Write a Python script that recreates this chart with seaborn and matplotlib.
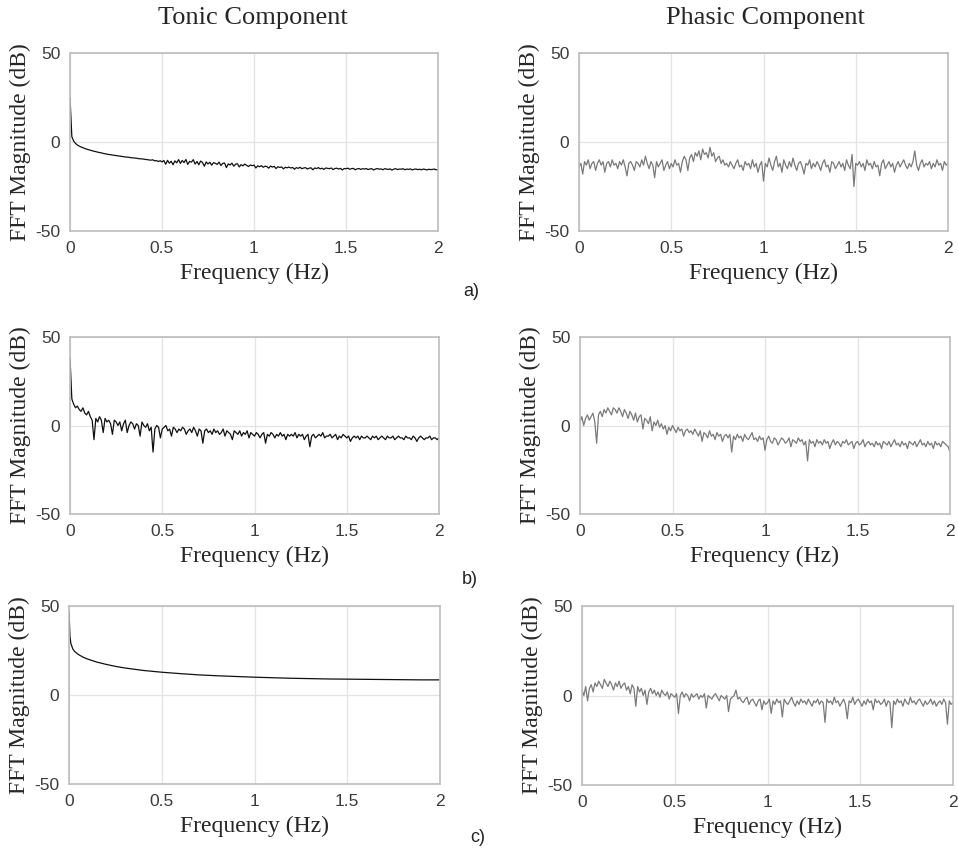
import numpy as np
import pandas as pd
import matplotlib
matplotlib.use("Agg")
import matplotlib.pyplot as plt
import seaborn as sns

# frequency axis of the FFT bins (0..2 Hz)
freq = np.linspace(0, 2, 201)

tonic_a = [25, 3.0, 0.5, -0.8, -1.7, -2.3, -2.8, -3.2, -3.6, -4.0, -4.3, -4.6, -4.9, -5.2, -5.4, -5.7, -5.9, -6.1, -6.4, -6.6,
           -6.8, -7.0, -7.1, -7.3, -7.5, -7.6, -7.8, -7.9, -8.1, -8.2, -8.4, -8.5, -8.6, -8.8, -8.9, -9.0, -9.1, -9.3, -9.4, -9.5,
           -9.6, -9.8, -9.9, -10.1, -10.2, -10.0, -10.6, -10.4, -11.0, -10.5, -11.2, -10.4, -12.5, -10.3, -11.9, -10.8, -12.8, -10.6, -11.7, -9.9,
           -12.0, -10.4, -11.6, -9.8, -12.6, -10.9, -11.3, -9.9, -12.4, -11.0, -12.8, -10.7, -11.5, -13.6, -11.2, -12.3, -11.4, -13.0, -11.6, -12.0,
           -12.6, -11.3, -13.2, -12.0, -11.8, -14.4, -12.3, -12.9, -11.9, -13.6, -12.5, -12.2, -14.0, -12.7, -13.4, -12.4, -13.1, -13.8, -12.9, -13.3,
           -13.0, -14.6, -13.4, -13.9, -13.3, -14.2, -13.6, -13.8, -14.7, -13.5, -14.1, -13.7, -14.9, -13.9, -14.3, -14.0, -15.1, -14.2, -14.5, -14.1,
           -14.6, -14.3, -15.3, -14.4, -14.8, -14.2, -15.0, -14.6, -14.4, -15.2, -14.7, -14.5, -15.6, -14.6, -14.9, -14.4, -15.1, -14.7, -15.4, -14.6,
           -14.8, -15.0, -14.6, -15.5, -14.9, -14.7, -15.2, -14.8, -15.7, -14.9, -15.0, -14.7, -15.3, -15.0, -14.8, -15.6, -15.1, -14.9, -15.4, -15.0,
           -15.2, -14.9, -15.5, -15.1, -15.0, -15.7, -15.2, -14.9, -15.3, -15.1, -15.6, -15.0, -15.2, -15.4, -15.1, -15.8, -15.2, -15.0, -15.5, -15.2,
           -15.3, -15.0, -15.6, -15.2, -15.4, -15.1, -15.7, -15.3, -15.2, -15.5, -15.3, -15.6, -15.2, -15.4, -15.7, -15.3, -15.5, -15.4, -15.2, -15.6, -15.5]

phasic_a = [-14, -12, -18, -11, -13, -10, -15, -12, -11, -16, -12, -10, -13, -11, -17, -12, -11, -14, -10, -13,
            -12, -15, -11, -13, -10, -14, -19, -12, -11, -13, -16, -11, -12, -14, -10, -13, -8, -12, -15, -11,
            -13, -20, -11, -14, -12, -10, -16, -13, -11, -15, -12, -14, -10, -13, -12, -17, -11, -8, -10, -16,
            -9, -7, -11, -6, -8, -5, -10, -4, -7, -6, -9, -3, -8, -6, -11, -9, -8, -12, -10, -13,
            -12, -14, -11, -13, -15, -12, -10, -14, -13, -16, -11, -13, -12, -15, -10, -14, -12, -17, -13, -11,
            -22, -12, -14, -9, -13, -16, -11, -8, -14, -12, -17, -10, -13, -15, -11, -14, -9, -13, -16, -12,
            -11, -14, -18, -12, -13, -10, -15, -12, -14, -11, -13, -16, -12, -10, -14, -13, -17, -11, -12, -15,
            -13, -11, -14, -12, -16, -10, -13, -15, -7, -25, -12, -13, -11, -14, -12, -16, -10, -13, -12, -15,
            -11, -14, -13, -19, -12, -10, -15, -13, -11, -14, -12, -17, -13, -11, -14, -12, -10, -13, -15, -12,
            -14, -11, -5, -13, -16, -12, -10, -14, -12, -13, -11, -15, -12, -14, -10, -13, -12, -16, -11, -13, -12]

tonic_b = [38, 15, 12, 10, 11, 9, 8, 10, 7, 6, 8, 5, 3, -8, 4, 2, 5, 3, -4, 4,
           2, 3, 1, -5, 3, 2, 0, 2, -3, 1, 3, -4, 0, 2, 1, -2, 1, 0, -6, 2,
           0, -1, 1, -3, -1, -15, -2, 0, -1, -7, -2, -1, 0, -3, -2, -6, -1, -2, -4, -2,
           -3, -1, -2, -5, -3, -2, -4, -1, -3, -6, -2, -3, -10, -3, -2, -4, -3, -5, -2, -4,
           -3, -5, -4, -2, -6, -3, -4, -5, -8, -3, -4, -5, -3, -6, -4, -5, -3, -7, -4, -5,
           -6, -4, -5, -7, -5, -4, -10, -5, -6, -4, -5, -7, -5, -6, -4, -6, -5, -8, -5, -6,
           -5, -6, -4, -7, -5, -6, -5, -8, -6, -5, -12, -6, -5, -7, -6, -5, -6, -4, -7, -6,
           -6, -5, -7, -6, -5, -8, -6, -7, -5, -6, -7, -6, -9, -7, -6, -7, -6, -8, -6, -7,
           -7, -6, -7, -8, -6, -7, -6, -8, -7, -6, -7, -8, -6, -7, -7, -6, -8, -7, -6, -7,
           -7, -8, -6, -7, -7, -8, -6, -7, -9, -7, -6, -7, -8, -7, -7, -6, -8, -7, -7, -8, -7]

phasic_b = [2, 5, 0, 4, 6, 3, 5, 7, 2, -10, 6, 8, 5, 9, 7, 10, 8, 6, 10, 9,
            7, 10, 8, 5, 9, 7, 4, 8, 6, 3, 7, 2, 5, 6, -2, 4, 3, 1, 5, -3,
            2, 0, 3, -1, 1, -2, 0, -5, -1, -3, 0, -2, -4, -1, -3, -2, -6, -3, -2, -4,
            -3, -5, -2, -4, -6, -3, -9, -4, -5, -7, -3, -6, -5, -8, -4, -6, -5, -9, -6, -5,
            -7, -5, -15, -6, -8, -5, -7, -6, -9, -5, -7, -8, -6, -4, -8, -7, -9, -6, -8, -7,
            -14, -8, -6, -9, -10, -7, -8, -11, -9, -7, -8, -10, -9, -7, -12, -8, -9, -10, -7, -9,
            -8, -11, -9, -20, -8, -10, -9, -12, -8, -10, -9, -11, -8, -10, -9, -13, -10, -8, -11, -9,
            -10, -12, -9, -10, -8, -11, -10, -9, -13, -10, -9, -11, -10, -8, -12, -10, -9, -11, -10, -12,
            -9, -11, -10, -13, -9, -10, -11, -9, -12, -10, -8, -11, -10, -12, -9, -11, -10, -13, -9, -10,
            -11, -9, -12, -10, -8, -11, -10, -12, -9, -11, -10, -13, -9, -11, -10, -12, -9, -10, -11, -12, -15]

# tonic c is smooth, read at fewer points
freq_c = [0, 0.005, 0.01, 0.02, 0.03, 0.05, 0.075, 0.1, 0.15, 0.2, 0.25, 0.3, 0.4, 0.5, 0.6,
          0.7, 0.8, 0.9, 1.0, 1.1, 1.2, 1.3, 1.4, 1.5, 1.6, 1.7, 1.8, 1.9, 2.0]
tonic_c = [47, 33, 29, 26, 24.5, 22.8, 21.3, 20.2, 18.5, 17.2, 16.1, 15.2, 13.8, 12.8, 12.0,
           11.3, 10.8, 10.4, 10.0, 9.7, 9.4, 9.2, 9.0, 8.9, 8.8, 8.7, 8.6, 8.5, 8.5]

phasic_c = [3, 0, 5, -3, 4, 6, 2, 7, 5, 8, 6, 4, 9, 7, 5, 8, 6, 3, 7, 5,
            8, 4, 6, 7, 3, 5, 1, 6, 4, -6, 5, 2, 4, 0, 3, -5, 2, 4, 1, 3,
            0, 2, -1, 3, 1, 0, 2, -2, 1, 0, -1, 1, -10, 0, 2, -1, 1, 0, -3, 1,
            -1, 0, 1, -2, 0, -1, 1, -7, 0, -1, -2, 0, 1, -1, -3, 0, -1, -2, 0, -9,
            -2, -1, 0, 3, -2, -1, -3, -4, -2, -1, -5, -3, -2, -4, -6, -3, -2, -8, -3, -5,
            -4, -2, -10, -3, -5, -2, -4, -3, -12, -2, -4, -5, -3, -1, -4, -6, -3, -5, -2, -4,
            -3, -5, -2, -4, -6, -3, -4, -2, -5, -3, -4, -15, -2, -4, -3, -5, -1, -4, -3, -6,
            -4, -2, -5, -13, -3, -4, -1, -5, -3, -2, -4, -6, -3, -5, -2, -4, -3, -8, -2, -4,
            -3, -5, -4, -2, -6, -3, -4, -18, -3, -5, -2, -4, -3, -6, -2, -4, -5, -1, -4, -3,
            -5, -3, -2, -4, -6, -3, -5, -4, -2, -5, -3, -6, -4, -3, -5, -2, -4, -16, -3, -5, -4]

xtick_vals = [0, 0.5, 1, 1.5, 2]
xtick_labels = ["0", "0.5", "1", "1.5", "2"]
ytick_vals = [-50, 0, 50]
ytick_labels = ["-50", "0", "50"]
col_titles = ["Tonic Component", "Phasic Component"]
row_tags = ["a)", "b)", "c)"]

sns.set_style("white")
plt.rcParams["font.family"] = ["Liberation Serif", "DejaVu Serif"]

W, H = 958, 851
fig = plt.figure(figsize=(W / 100, H / 100), dpi=100)

# axes boxes in pixels: left, top, right, bottom
boxes = [[(70, 53, 438, 231), (579, 53, 948, 231)],
         [(70, 337, 439, 514), (580, 337, 950, 514)],
         [(69, 606, 440, 784), (582, 606, 953, 785)]]

series = [[(freq, tonic_a), (freq, phasic_a)],
          [(freq, tonic_b), (freq, phasic_b)],
          [(freq_c, tonic_c), (freq, phasic_c)]]

for r in range(3):
    for c in range(2):
        l, t, rt, b = boxes[r][c]
        ax = fig.add_axes([l / W, 1 - b / H, (rt - l) / W, (b - t) / H])
        xs, ys = series[r][c]
        df = pd.DataFrame({"f": xs, "mag": ys})
        color = "#111111" if c == 0 else "#7a7a7a"
        sns.lineplot(data=df, x="f", y="mag", ax=ax, color=color, linewidth=0.9)
        ax.set_xlim(0, 2)
        ax.set_ylim(-50, 50)
        ax.set_xticks(xtick_vals)
        ax.set_xticklabels(xtick_labels)
        ax.set_yticks(ytick_vals)
        ax.set_yticklabels(ytick_labels)
        ax.grid(True, color="#e3e3e3", linewidth=0.9)
        for sp in ax.spines.values():
            sp.set_color("#bdbdbd")
            sp.set_linewidth(1.2)
        ax.tick_params(length=0, pad=7, labelsize=12.5, colors="#3c3c3c")
        for lab in ax.get_xticklabels() + ax.get_yticklabels():
            lab.set_family(["Liberation Sans", "DejaVu Sans"])
        ax.set_xlabel("Frequency (Hz)", fontsize=17, labelpad=5)
        ax.set_ylabel("FFT Magnitude (dB)", fontsize=17, labelpad=3)

fig.text(253 / W, 1 - 18 / H, col_titles[0], fontsize=19, ha="center", va="center")
fig.text(765 / W, 1 - 18 / H, col_titles[1], fontsize=19, ha="center", va="center")

tag_pos = [(471, 292), (470, 580), (478, 838)]
for tag, (x, y) in zip(row_tags, tag_pos):
    fig.text(x / W, 1 - y / H, tag, fontsize=13, ha="center", va="center",
             family=["Liberation Sans", "DejaVu Sans"], color="#222222")

fig.savefig("out.png", dpi=100)
